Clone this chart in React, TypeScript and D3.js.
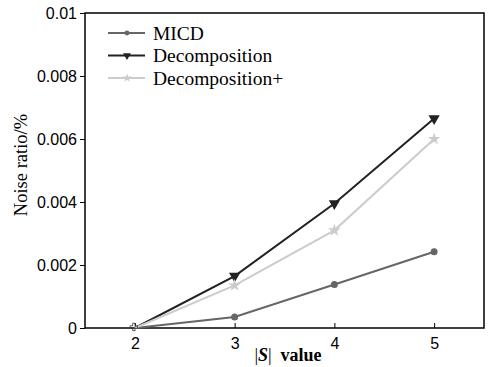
import React, { useEffect, useRef } from 'react';
import * as d3 from 'd3';

const sizes = [2, 3, 4, 5];
const micd = [0, 0.00035, 0.00138, 0.00242];
const decomposition = [0, 0.00165, 0.00395, 0.00665];
const decompositionPlus = [0, 0.00135, 0.0031, 0.006];
const yTicks = [0, 0.002, 0.004, 0.006, 0.008, 0.01];

const series = [
    { name: 'MICD', values: micd, color: '#666666', marker: 'circle' },
    { name: 'Decomposition', values: decomposition, color: '#222222', marker: 'triangle' },
    { name: 'Decomposition+', values: decompositionPlus, color: '#cccccc', marker: 'star' },
];

const App = () => {
    const svgRef = useRef<SVGSVGElement>(null);

    useEffect(() => {
        const svg = d3.select(svgRef.current);
        svg.selectAll('*').remove();

        const margin = { top: 13, right: 9, bottom: 39, left: 85 };
        const width = 493;
        const height = 367;

        const x = d3.scaleLinear().domain([1.5, 5.5]).range([margin.left, width - margin.right]);
        const y = d3.scaleLinear().domain([0, 0.01]).range([height - margin.bottom, margin.top]);

        // frame
        svg.append('rect')
            .attr('x', margin.left)
            .attr('y', margin.top)
            .attr('width', width - margin.right - margin.left)
            .attr('height', height - margin.bottom - margin.top)
            .attr('fill', 'none')
            .attr('stroke', '#000')
            .attr('stroke-width', 1.5);

        const xAxis = svg.append('g')
            .attr('transform', `translate(0,${height - margin.bottom})`)
            .call(d3.axisBottom(x).tickValues(sizes).tickSize(-5).tickPadding(10).tickFormat(d3.format('d')));
        xAxis.select('.domain').remove();
        xAxis.selectAll('.tick text')
            .attr('font-family', 'Liberation Sans, Arial, sans-serif')
            .attr('font-size', 16)
            .attr('fill', '#000');

        const yAxis = svg.append('g')
            .attr('transform', `translate(${margin.left},0)`)
            .call(d3.axisLeft(y).tickValues(yTicks).tickSize(5).tickPadding(3)
                .tickFormat(d => (d === 0 ? '0' : String(+(+d).toFixed(3)))));
        yAxis.select('.domain').remove();
        yAxis.selectAll('.tick text')
            .attr('font-family', 'Liberation Sans, Arial, sans-serif')
            .attr('font-size', 16)
            .attr('fill', '#000');

        const line = d3.line<number>()
            .x((_, i) => x(sizes[i]))
            .y(d => y(d));

        const drawMarker = (g, marker, color, cx, cy, k = 1) => {
            if (marker === 'circle') {
                g.append('circle').attr('cx', cx).attr('cy', cy).attr('r', 3.5 * k).attr('fill', color);
            } else if (marker === 'triangle') {
                g.append('path').attr('d', d3.symbol().type(d3.symbolTriangle).size(55 * k * k)())
                    .attr('transform', `translate(${cx},${cy}) rotate(180)`).attr('fill', color);
            } else {
                g.append('path').attr('d', d3.symbol().type(d3.symbolStar).size(50 * k * k)())
                    .attr('transform', `translate(${cx},${cy})`).attr('fill', color);
            }
        };

        series.forEach(s => {
            const g = svg.append('g');
            g.append('path')
                .datum(s.values)
                .attr('fill', 'none')
                .attr('stroke', s.color)
                .attr('stroke-width', 2)
                .attr('d', line);
            s.values.forEach((v, i) => {
                if (i === 0) return;
                drawMarker(g, s.marker, s.color, x(sizes[i]), y(v));
            });
        });

        // plus marker at the first point
        svg.append('path')
            .attr('d', d3.symbol().type(d3.symbolCross).size(30)())
            .attr('transform', `translate(${x(2) - 1},${y(0) - 1})`)
            .attr('fill', 'none')
            .attr('stroke', '#333')
            .attr('stroke-width', 0.8);

        // legend
        const legend = svg.append('g').attr('transform', 'translate(108,33)');
        series.forEach((s, i) => {
            const row = legend.append('g').attr('transform', `translate(0,${i * 22.5})`);
            row.append('line').attr('x1', 0).attr('x2', 37).attr('y1', 0).attr('y2', 0)
                .attr('stroke', s.color).attr('stroke-width', 2);
            drawMarker(row, s.marker, s.color, 19, 0, 0.7);
            row.append('text')
                .attr('x', 45)
                .attr('y', 6.5)
                .attr('font-family', 'Liberation Serif, Times New Roman, serif')
                .attr('font-size', 19.5)
                .attr('fill', '#000')
                .text(s.name);
        });

        // axis titles
        const xTitle = svg.append('text')
            .attr('x', 288)
            .attr('y', 361)
            .attr('text-anchor', 'middle')
            .attr('font-family', 'Liberation Serif, Times New Roman, serif')
            .attr('font-size', 18)
            .attr('font-weight', 'bold')
            .attr('fill', '#000');
        xTitle.append('tspan').attr('font-weight', 'normal').text('|');
        xTitle.append('tspan').attr('font-style', 'italic').text('S');
        xTitle.append('tspan').attr('font-weight', 'normal').text('|');
        xTitle.append('tspan').text('\u00a0 value');

        svg.append('text')
            .attr('transform', `translate(27,165) rotate(-90)`)
            .attr('text-anchor', 'middle')
            .attr('font-family', 'Liberation Serif, Times New Roman, serif')
            .attr('font-size', 18.5)
            .attr('fill', '#000')
            .text('Noise ratio/%');
    }, []);

    return (
        <svg ref={svgRef} width={493} height={367}
            style={{ position: 'absolute', left: 0, top: 0, background: '#fff' }} />
    );
};

export default App;
